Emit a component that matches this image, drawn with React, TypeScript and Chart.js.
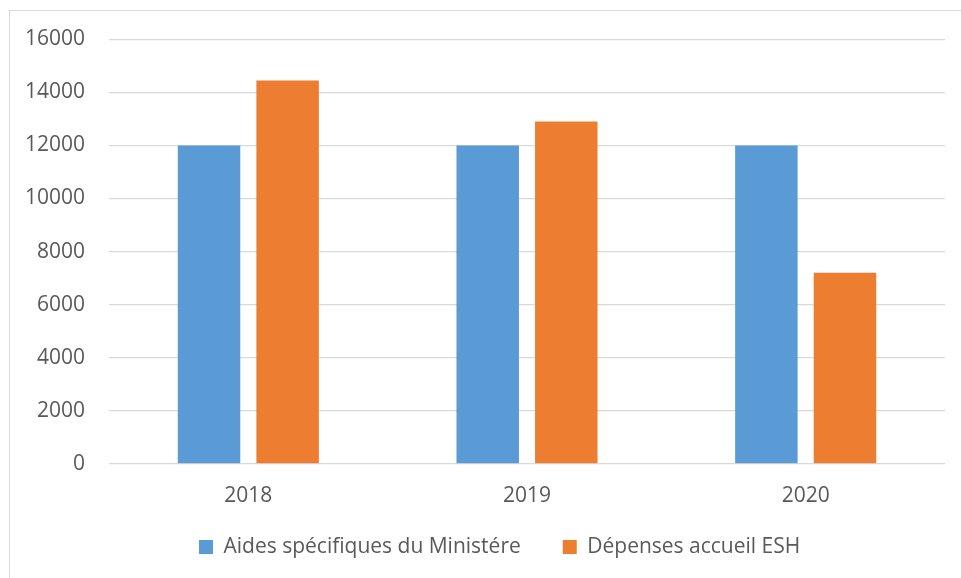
import React, { useEffect, useRef } from "react";
import { Chart, registerables } from "chart.js";

Chart.register(...registerables);

const years = ["2018", "2019", "2020"];
const aidesMinistere = [12000, 12000, 12000];
const depensesESH = [14450, 12900, 7200];
const seriesNames = ["Aides spécifiques du Ministére", "Dépenses accueil ESH"];
const seriesColors = ["#5B9BD5", "#ED7D31"];

const FONT = "'Open Sans', 'DejaVu Sans', sans-serif";
const FS = 21;
const TEXT = "#595959";
const GRID = "#d9d9d9";

const legendPlacer = {
  id: "legendPlacer",
  afterLayout(chart: any) {
    const lg = chart.legend;
    if (!lg) return;
    const pad = lg.options.labels.padding;
    const w = lg.right - lg.left;
    const h = lg.bottom - lg.top;
    lg.left = 199 - pad;
    lg.right = lg.left + w;
    lg.top = 536.5 - pad;
    lg.bottom = lg.top + h;
  },
};

export default function App() {
  const ref = useRef<HTMLCanvasElement | null>(null);
  useEffect(() => {
    document.documentElement.style.overflow = "hidden";
    document.body.style.overflow = "hidden";
    const ctx = ref.current!;
    const chart = new Chart(ctx, {
      type: "bar",
      data: {
        labels: years,
        datasets: [
          {
            label: seriesNames[0],
            data: aidesMinistere,
            backgroundColor: seriesColors[0],
            borderWidth: 0,
          },
          {
            label: seriesNames[1],
            data: depensesESH,
            backgroundColor: seriesColors[1],
            borderWidth: 0,
          },
        ],
      },
      options: {
        responsive: false,
        animation: false,
        devicePixelRatio: 1,
        layout: { padding: { left: 0, right: 16, top: 39.3, bottom: 0 } },
        datasets: { bar: { categoryPercentage: 0.564, barPercentage: 0.795 } },
        plugins: {
          tooltip: { enabled: false },
          legend: {
            position: "bottom",
            align: "start",
            labels: {
              boxWidth: 14,
              boxHeight: 14,
              padding: 42,
              color: TEXT,
              font: { family: FONT, size: FS },
            },
          },
        },
        scales: {
          x: {
            grid: { display: false, drawTicks: false },
            border: { display: false },
            ticks: { color: TEXT, font: { family: FONT, size: FS }, padding: 19.5 },
            afterFit: (s: any) => {
              s.height = 578 - 462.3 - (FS * 1.2 + 42 + 10) + 2.7;
            },
          },
          y: {
            min: 0,
            max: 16000,
            grid: { color: GRID, lineWidth: 1.3, drawTicks: false },
            border: { display: false },
            ticks: {
              stepSize: 2000,
              color: TEXT,
              font: { family: FONT, size: FS },
              padding: 24,
              callback: (v: any) => String(v),
            },
            afterFit: (s: any) => {
              s.width = 109;
            },
          },
        },
      },
      plugins: [legendPlacer],
    });
    return () => chart.destroy();
  }, []);
  return (
    <div
      style={{
        position: "fixed",
        left: 0,
        top: 0,
        width: 961,
        height: 578,
        overflow: "hidden",
        background: "#fff",
      }}
    >
      <div
        style={{
          position: "absolute",
          left: 9,
          top: 10,
          width: 1100,
          height: 800,
          border: "1px solid #d9d9d9",
        }}
      />
      <canvas
        ref={ref}
        width={961}
        height={578}
        style={{ position: "absolute", left: 0, top: 0, width: 961, height: 578 }}
      />
    </div>
  );
}
